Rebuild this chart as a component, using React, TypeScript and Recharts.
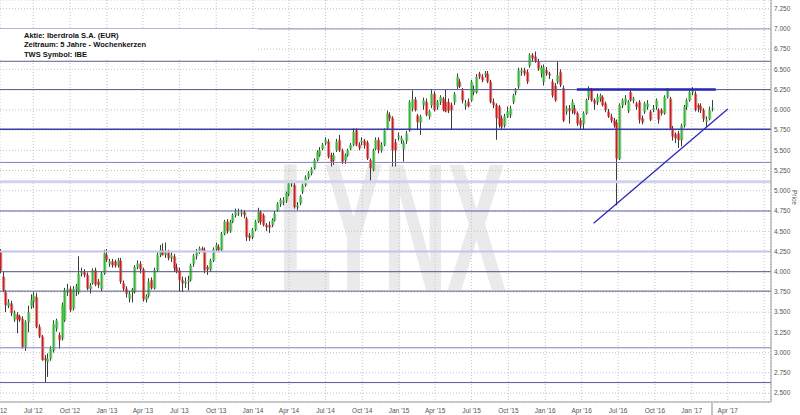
import { Bar, CartesianGrid, ComposedChart, ReferenceLine, XAxis, YAxis } from "recharts";

const DAY = 86400000;
const toDay = (iso: string) => Date.parse(iso) / DAY;

// weekly candles, first week starts 2012-04-09, one entry per week: [open, high, low, close]
const firstWeek = "2012-04-09";
const axisEnd = "2017-07-18";

const weeklyOHLC: [number, number, number, number][] = [
  [4.25, 4.28, 3.98, 4.02], [3.94, 4.0, 3.75, 3.77], [3.75, 3.77, 3.5, 3.59], [3.58, 3.66, 3.55, 3.62],
  [3.61, 3.64, 3.45, 3.49], [3.41, 3.52, 3.38, 3.49], [3.47, 3.5, 3.24, 3.41], [3.45, 3.47, 3.38, 3.41],
  [3.42, 3.45, 3.05, 3.07], [3.07, 3.4, 3.02, 3.38], [3.38, 3.58, 3.25, 3.5], [3.57, 3.72, 3.54, 3.65],
  [3.63, 3.75, 3.55, 3.71], [3.69, 3.74, 3.3, 3.32], [3.32, 3.35, 3.18, 3.2], [3.2, 3.22, 2.9, 2.91],
  [2.93, 2.97, 2.63, 2.91], [2.89, 2.99, 2.7, 2.93], [2.93, 3.08, 2.9, 3.05], [3.03, 3.4, 3.0, 3.36],
  [3.3, 3.42, 3.26, 3.4], [3.22, 3.25, 3.05, 3.16], [3.18, 3.62, 3.15, 3.59], [3.4, 3.8, 3.38, 3.77],
  [3.75, 3.85, 3.7, 3.79], [3.79, 3.82, 3.5, 3.53], [3.55, 3.82, 3.52, 3.79], [3.78, 3.85, 3.7, 3.82],
  [3.75, 4.19, 3.72, 3.98], [3.98, 4.05, 3.94, 4.0], [4.0, 4.03, 3.93, 3.96], [3.96, 3.99, 3.77, 3.79],
  [3.79, 3.86, 3.73, 3.83], [3.86, 4.04, 3.84, 4.02], [4.02, 4.05, 3.82, 3.84], [3.88, 3.91, 3.8, 3.84],
  [3.79, 4.0, 3.76, 3.98], [3.98, 4.27, 3.96, 4.23], [4.21, 4.28, 4.12, 4.15], [4.1, 4.16, 4.06, 4.13],
  [4.13, 4.16, 4.05, 4.08], [4.13, 4.15, 4.05, 4.08], [4.08, 4.17, 4.05, 4.14], [4.14, 4.17, 3.85, 3.88],
  [3.86, 3.89, 3.76, 3.79], [3.79, 3.82, 3.68, 3.73], [3.67, 3.76, 3.62, 3.73], [3.75, 3.8, 3.62, 3.78],
  [3.75, 4.08, 3.73, 4.06], [4.06, 4.14, 4.03, 4.1], [4.1, 4.13, 3.98, 4.03], [4.03, 4.05, 3.63, 3.66],
  [3.66, 3.72, 3.62, 3.7], [3.71, 3.92, 3.68, 3.88], [3.9, 3.93, 3.78, 3.8], [3.8, 4.05, 3.78, 4.02],
  [4.02, 4.24, 4.0, 4.21], [4.21, 4.33, 4.18, 4.27], [4.27, 4.35, 4.2, 4.21], [4.21, 4.36, 4.17, 4.24],
  [4.24, 4.27, 4.14, 4.17], [4.17, 4.24, 4.12, 4.2], [4.19, 4.22, 4.0, 4.04], [4.06, 4.1, 3.98, 4.0],
  [4.02, 4.05, 3.75, 3.9], [3.9, 3.94, 3.75, 3.86], [3.86, 3.93, 3.8, 3.88], [3.88, 3.95, 3.77, 3.9],
  [3.9, 4.1, 3.88, 4.08], [4.1, 4.22, 4.06, 4.2], [4.2, 4.28, 4.15, 4.25], [4.26, 4.31, 4.22, 4.29],
  [4.29, 4.31, 4.24, 4.27], [4.27, 4.3, 3.98, 4.02], [4.06, 4.08, 3.96, 4.03], [4.03, 4.16, 4.0, 4.14],
  [4.14, 4.3, 4.12, 4.28], [4.28, 4.36, 4.25, 4.33], [4.31, 4.34, 4.24, 4.27], [4.27, 4.49, 4.25, 4.47],
  [4.47, 4.64, 4.45, 4.62], [4.62, 4.65, 4.47, 4.5], [4.5, 4.64, 4.48, 4.62], [4.62, 4.72, 4.6, 4.7],
  [4.7, 4.78, 4.67, 4.74], [4.72, 4.78, 4.69, 4.73], [4.72, 4.77, 4.68, 4.74], [4.74, 4.76, 4.66, 4.7],
  [4.66, 4.68, 4.38, 4.43], [4.45, 4.48, 4.38, 4.42], [4.43, 4.54, 4.4, 4.52], [4.52, 4.64, 4.5, 4.62],
  [4.62, 4.79, 4.6, 4.74], [4.74, 4.76, 4.58, 4.62], [4.7, 4.72, 4.56, 4.58], [4.58, 4.6, 4.5, 4.55],
  [4.58, 4.62, 4.48, 4.55], [4.58, 4.66, 4.55, 4.64], [4.64, 4.75, 4.62, 4.72], [4.76, 4.86, 4.74, 4.84],
  [4.84, 4.91, 4.8, 4.89], [4.86, 4.92, 4.82, 4.88], [4.88, 4.99, 4.85, 4.97], [4.96, 5.12, 4.93, 5.09],
  [5.09, 5.13, 5.05, 5.1], [5.07, 5.12, 4.78, 4.8], [4.8, 4.86, 4.76, 4.82], [4.85, 4.95, 4.82, 4.93],
  [4.99, 5.09, 4.96, 5.07], [5.07, 5.19, 5.05, 5.17], [5.17, 5.24, 5.14, 5.22], [5.22, 5.29, 5.19, 5.27],
  [5.28, 5.4, 5.26, 5.38], [5.38, 5.5, 5.36, 5.48], [5.44, 5.54, 5.42, 5.5], [5.52, 5.59, 5.5, 5.57],
  [5.59, 5.66, 5.56, 5.63], [5.61, 5.64, 5.4, 5.42], [5.44, 5.47, 5.3, 5.36], [5.38, 5.47, 5.32, 5.44],
  [5.5, 5.64, 5.48, 5.61], [5.63, 5.69, 5.48, 5.5], [5.5, 5.52, 5.33, 5.36], [5.38, 5.46, 5.33, 5.44],
  [5.44, 5.52, 5.42, 5.5], [5.52, 5.59, 5.5, 5.57], [5.57, 5.77, 5.55, 5.73], [5.75, 5.77, 5.55, 5.57],
  [5.57, 5.6, 5.5, 5.53], [5.6, 5.66, 5.56, 5.62], [5.62, 5.64, 5.52, 5.56], [5.6, 5.62, 5.38, 5.4],
  [5.38, 5.4, 5.12, 5.28], [5.26, 5.52, 5.24, 5.5], [5.52, 5.66, 5.5, 5.63], [5.63, 5.66, 5.46, 5.5],
  [5.5, 5.6, 5.47, 5.57], [5.57, 5.77, 5.55, 5.75], [5.77, 5.99, 5.75, 5.96], [5.94, 5.97, 5.86, 5.9],
  [5.9, 5.92, 5.3, 5.5], [5.6, 5.64, 5.3, 5.5], [5.66, 5.72, 5.62, 5.68], [5.62, 5.68, 5.58, 5.65],
  [5.52, 5.62, 5.36, 5.6], [5.62, 5.74, 5.58, 5.71], [5.75, 6.12, 5.73, 6.1], [6.02, 6.24, 5.98, 6.13],
  [6.13, 6.16, 5.98, 6.0], [5.93, 5.95, 5.76, 5.85], [5.85, 5.94, 5.69, 5.92], [6.06, 6.15, 6.0, 6.12],
  [6.1, 6.14, 5.92, 5.94], [5.92, 6.0, 5.88, 5.98], [6.06, 6.25, 6.02, 6.2], [6.2, 6.23, 5.98, 6.0],
  [6.04, 6.12, 6.0, 6.1], [6.1, 6.18, 6.06, 6.16], [6.14, 6.16, 5.98, 6.0], [6.1, 6.25, 5.97, 5.98],
  [6.1, 6.14, 5.96, 5.99], [6.06, 6.09, 5.75, 6.0], [6.1, 6.22, 6.06, 6.2], [6.29, 6.45, 6.26, 6.41],
  [6.35, 6.38, 6.27, 6.29], [6.24, 6.27, 6.08, 6.12], [6.05, 6.12, 6.0, 6.08], [6.1, 6.14, 6.03, 6.05],
  [6.12, 6.37, 6.1, 6.35], [6.22, 6.3, 6.18, 6.26], [6.22, 6.44, 6.2, 6.41], [6.45, 6.47, 6.38, 6.41],
  [6.41, 6.44, 6.34, 6.37], [6.43, 6.48, 6.4, 6.45], [6.45, 6.48, 6.33, 6.35], [6.35, 6.37, 6.08, 6.1],
  [6.1, 6.14, 6.02, 6.06], [6.06, 6.08, 5.63, 5.9], [6.04, 6.06, 5.78, 5.81], [5.9, 5.93, 5.75, 5.79],
  [5.81, 5.95, 5.78, 5.92], [5.92, 6.04, 5.9, 5.98], [5.94, 6.05, 5.9, 6.02], [6.1, 6.2, 6.07, 6.18],
  [6.22, 6.27, 6.18, 6.25], [6.29, 6.52, 6.26, 6.49], [6.47, 6.52, 6.42, 6.49], [6.49, 6.52, 6.42, 6.45],
  [6.47, 6.5, 6.32, 6.35], [6.55, 6.7, 6.52, 6.68], [6.68, 6.7, 6.6, 6.64], [6.66, 6.72, 6.58, 6.6],
  [6.6, 6.63, 6.48, 6.51], [6.45, 6.55, 6.4, 6.52], [6.35, 6.56, 6.3, 6.53], [6.49, 6.53, 6.42, 6.45],
  [6.45, 6.47, 6.38, 6.43], [6.35, 6.38, 6.15, 6.18], [6.3, 6.33, 6.1, 6.12], [6.35, 6.6, 6.32, 6.43],
  [6.47, 6.5, 6.28, 6.31], [6.27, 6.3, 5.85, 5.87], [5.98, 6.05, 5.94, 6.02], [6.02, 6.06, 5.83, 5.99],
  [6.0, 6.13, 5.95, 6.1], [6.02, 6.06, 5.94, 5.96], [5.96, 5.98, 5.8, 5.83], [5.87, 5.9, 5.75, 5.81],
  [5.83, 5.98, 5.75, 5.96], [5.96, 6.14, 5.94, 6.12], [6.16, 6.29, 6.12, 6.25], [6.25, 6.27, 6.1, 6.12],
  [6.12, 6.14, 6.0, 6.08], [6.1, 6.2, 6.06, 6.16], [6.14, 6.2, 6.1, 6.18], [6.16, 6.18, 6.04, 6.06],
  [6.08, 6.1, 5.97, 6.0], [5.98, 6.01, 5.9, 5.92], [5.92, 5.95, 5.84, 5.87], [5.87, 5.9, 5.78, 5.81],
  [5.85, 5.88, 4.82, 5.4], [5.4, 6.08, 5.38, 6.06], [6.06, 6.14, 6.02, 6.12], [6.1, 6.18, 6.06, 6.14],
  [5.99, 6.12, 5.96, 6.1], [6.22, 6.25, 6.1, 6.12], [6.12, 6.16, 6.08, 6.14], [6.08, 6.1, 6.0, 6.04],
  [6.1, 6.12, 5.83, 5.88], [5.9, 5.93, 5.82, 5.85], [5.98, 6.1, 5.95, 6.08], [6.04, 6.12, 6.0, 6.08],
  [5.98, 6.0, 5.86, 5.88], [6.0, 6.06, 5.97, 6.02], [6.04, 6.14, 6.0, 6.12], [6.0, 6.02, 5.83, 5.88],
  [6.0, 6.02, 5.93, 5.96], [5.96, 6.18, 5.94, 6.16], [6.16, 6.27, 6.14, 6.25], [6.14, 6.16, 5.75, 5.77],
  [5.77, 5.8, 5.62, 5.67], [5.7, 5.72, 5.59, 5.65], [5.71, 5.74, 5.53, 5.63], [5.63, 5.83, 5.55, 5.81],
  [5.81, 6.06, 5.78, 6.04], [6.04, 6.14, 6.0, 6.12], [6.12, 6.24, 6.1, 6.22], [6.22, 6.28, 6.18, 6.24],
  [6.2, 6.23, 5.98, 6.0], [6.06, 6.08, 5.97, 6.03], [6.05, 6.08, 5.96, 6.0], [6.0, 6.02, 5.85, 5.89],
  [5.86, 5.92, 5.79, 5.88], [5.89, 6.04, 5.87, 6.0], [6.02, 6.12, 5.98, 6.03],
];

const priceTicks = [2.5, 2.75, 3.0, 3.25, 3.5, 3.75, 4.0, 4.25, 4.5, 4.75, 5.0, 5.25, 5.5, 5.75, 6.0, 6.25, 6.5, 6.75, 7.0, 7.25];
const quarterDates = [
  "2012-07-01", "2012-10-01", "2013-01-01", "2013-04-01", "2013-07-01", "2013-10-01", "2014-01-01",
  "2014-04-01", "2014-07-01", "2014-10-01", "2015-01-01", "2015-04-01", "2015-07-01", "2015-10-01",
  "2016-01-01", "2016-04-01", "2016-07-01", "2016-10-01", "2017-01-01", "2017-04-01", "2017-07-01",
];
const quarterLabels = [
  "Jul '12", "Oct '12", "Jan '13", "Apr '13", "Jul '13", "Oct '13", "Jan '14",
  "Apr '14", "Jul '14", "Oct '14", "Jan '15", "Apr '15", "Jul '15", "Oct '15",
  "Jan '16", "Apr '16", "Jul '16", "Oct '16", "Jan '17", "Apr '17", "",
];

// horizontal support / resistance levels
const levels = [7.0, 6.6, 6.25, 5.76, 5.35, 5.11, 4.75, 4.25, 4.0, 3.76, 3.06, 2.63];
const levelColors = ["#8a8ac4", "#5c5c96", "#56569c", "#3a3aa8", "#8080c0", "#d2d2ee", "#5e5ea6", "#c4c4e8", "#55557e", "#55557e", "#7f7fc6", "#5858a2"];
const levelWidths = [1, 1, 1, 1.5, 1, 3, 1, 2, 1, 1, 1, 1];

const resistanceDates = ["2016-03-20", "2017-03-02"];
const resistancePrice = 6.25;
const trendDates = ["2016-05-01", "2017-04-01"];
const trendPrices = [4.6, 6.01];

const weekStart = toDay(firstWeek);
const data = weeklyOHLC.map(([open, high, low, close], i) => ({
  t: weekStart + i * 7,
  open,
  high,
  low,
  close,
  range: [low, high],
}));

const labelByTick = new Map(quarterDates.map((d, i) => [toDay(d), quarterLabels[i]]));

function Candle(props: any) {
  const { x, y, width, height, payload } = props;
  if (!payload) return null;
  const top = Math.min(y, y + height);
  const h = Math.abs(height);
  const span = payload.high - payload.low;
  const ppu = span > 0 ? h / span : 0;
  const cx = Math.round(x + width / 2);
  const bodyTop = top + (payload.high - Math.max(payload.open, payload.close)) * ppu;
  const bodyH = Math.max(1, (Math.abs(payload.open - payload.close)) * ppu);
  const up = payload.close >= payload.open;
  return (
    <g>
      <rect x={cx + 1} y={bodyTop + 1} width={1.5} height={bodyH} fill="#cfcfcf" />
      <line x1={cx + 0.5} x2={cx + 0.5} y1={top} y2={top + h} stroke="#3c3c3c" strokeWidth={1} />
      <rect x={cx - 0.5} y={bodyTop} width={2} height={bodyH} fill={up ? "#2fba2f" : "#d11a1a"} />
    </g>
  );
}

export default function App() {
  const tickFont = { fontSize: 6.5, fill: "#555", fontFamily: "Liberation Sans, Arial, sans-serif" };
  return (
    <div style={{ position: "absolute", left: 0, top: 0, width: 800, height: 415, background: "#fff", overflow: "hidden" }}>
      <svg width={800} height={415} style={{ position: "absolute", left: 0, top: 0 }}>
        <text
          x={278}
          y={290}
          fontSize={182}
          fontWeight="bold"
          fontFamily="Liberation Sans, Arial, sans-serif"
          fill="#eaeaea"
          textLength={228}
          lengthAdjust="spacingAndGlyphs"
        >
          LYNX
        </text>
      </svg>
      <div style={{ position: "absolute", left: 0, top: 0 }}>
        <ComposedChart width={800} height={415} data={data} margin={{ top: 0, right: 0, bottom: 0, left: 0 }}>
          <CartesianGrid stroke="#c4c4c4" strokeDasharray="1 2" />
          <XAxis
            dataKey="t"
            type="number"
            domain={[weekStart, toDay(axisEnd)]}
            allowDataOverflow
            ticks={quarterDates.map(toDay)}
            interval={0}
            tickFormatter={(v: number) => labelByTick.get(v) ?? ""}
            tick={tickFont}
            tickLine={false}
            tickSize={4}
            tickMargin={2}
            axisLine={{ stroke: "#9a9a9a" }}
            height={13}
          />
          <YAxis
            orientation="right"
            type="number"
            domain={[2.39, 7.357]}
            allowDataOverflow
            ticks={priceTicks}
            interval={0}
            tickFormatter={(v: number) => v.toFixed(3)}
            tick={{ ...tickFont, textAnchor: "start" }}
            tickLine={false}
            tickSize={2}
            tickMargin={1}
            axisLine={{ stroke: "#9a9a9a" }}
            width={29}
          />
          {levels.map((lv, i) => (
            <ReferenceLine key={lv} y={lv} stroke={levelColors[i]} strokeWidth={levelWidths[i]} />
          ))}
          <Bar dataKey="range" barSize={3} shape={Candle} isAnimationActive={false} />
          <ReferenceLine
            segment={[
              { x: toDay(resistanceDates[0]), y: resistancePrice },
              { x: toDay(resistanceDates[1]), y: resistancePrice },
            ]}
            stroke="#2626b0"
            strokeWidth={2.5}
          />
          <ReferenceLine
            segment={[
              { x: toDay(trendDates[0]), y: trendPrices[0] },
              { x: toDay(trendDates[1]), y: trendPrices[1] },
            ]}
            stroke="#2a2ab8"
            strokeWidth={1.3}
          />
        </ComposedChart>
      </div>
      <svg width={800} height={415} style={{ position: "absolute", left: 0, top: 0, pointerEvents: "none" }}>
        <rect x={0} y={29} width={258} height={31} fill="#fff" />
        <g fontFamily="Liberation Sans, Arial, sans-serif" fontWeight="bold" fontSize={7.5} fill="#111">
          <text x={24} y={37.5}>Aktie: Iberdrola S.A. (EUR)</text>
          <text x={24} y={47}>Zeitraum: 5 Jahre - Wochenkerzen</text>
          <text x={24} y={56.5}>TWS Symbol: IBE</text>
        </g>
        <text x={-3} y={412.5} fontSize={6.5} fill="#555" fontFamily="Liberation Sans, Arial, sans-serif" textAnchor="middle">
          Apr '12
        </text>
        <text x={792} y={190} fontSize={6.5} fill="#555" fontFamily="Liberation Sans, Arial, sans-serif" transform="rotate(90 792 190)">
          Price
        </text>
        <line x1={712} x2={712} y1={403} y2={415} stroke="#8a8a8a" />
      </svg>
    </div>
  );
}
